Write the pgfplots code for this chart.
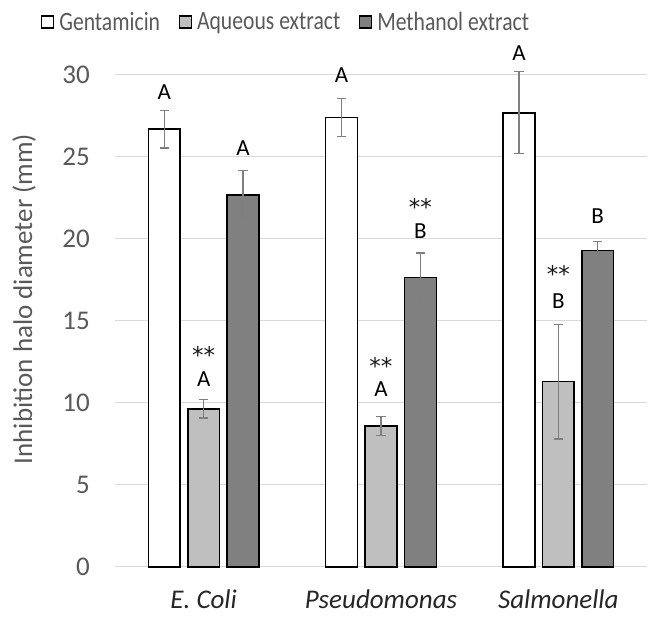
\documentclass[border=0pt]{standalone}
\usepackage{pgfplots}
\pgfplotsset{compat=1.18}
\usepackage{fontspec}
\setmainfont{Carlito}
\newfontfamily\legfont[FakeStretch=0.82]{Carlito}
\newfontfamily\astfont{DejaVu Sans}
\definecolor{txtgray}{HTML}{595959}
\definecolor{gridgray}{HTML}{D9D9D9}
\definecolor{lightbar}{HTML}{BFBFBF}
\definecolor{darkbar}{HTML}{808080}
\definecolor{errgray}{HTML}{7F7F7F}
\pgfplotsset{
  sqlegend/.style={legend image code/.code={\draw[##1, line width=1pt] (0pt,-4.5pt) rectangle (9pt,4.5pt);}},
  myerr/.style={error bars/.cd, y dir=both, y explicit,
    error bar style={color=errgray, line width=0.9pt},
    error mark options={rotate=90, mark size=3.5pt, line width=0.9pt, color=errgray}},
}
\tikzset{anno/.style={font=\fontsize{17.25pt}{20pt}\selectfont, anchor=base, inner sep=0pt, text=black},
  ast/.style={font=\astfont\fontsize{17.25pt}{20pt}\selectfont, anchor=base, inner sep=0pt, text=black!90}}
\begin{document}
\begin{tikzpicture}
\path[use as bounding box] (-86.25pt,-37.5pt) rectangle (406.5pt,425.25pt);
\begin{axis}[
  at={(0pt,0pt)}, anchor=south west,
  scale only axis, width=399pt, height=369pt,
  ybar, bar width=0.18,
  xmin=-0.5, xmax=2.5, ymin=0, ymax=30,
  xtick={0,1,2}, xticklabels={E. Coli, Pseudomonas, Salmonella},
  ytick={0,5,...,30},
  ymajorgrids, major grid style={gridgray, line width=0.75pt},
  axis line style={draw=none}, major tick length=0pt, tick style={draw=none},
  clip=false,
  /pgf/number format/assume math mode=true,
  yticklabel style={font=\fontsize{20.25pt}{24pt}\selectfont, text=txtgray, inner sep=0pt, xshift=-18.75pt},
  xticklabel style={font=\fontsize{20.25pt}{24pt}\selectfont\itshape, text=black!85, inner sep=0pt, yshift=-17pt},
  ylabel={Inhibition halo diameter (mm)},
  ylabel style={font=\fontsize{20.25pt}{24pt}\selectfont, text=txtgray, at={(axis description cs:-0.171,0.5447)}, anchor=center},
  legend columns=3,
  legend cell align=left,
  legend style={draw=none, fill=none, at={(axis description cs:-0.139,1.1077)}, anchor=west,
    inner sep=0pt, outer sep=0pt, font=\legfont\fontsize{19.8pt}{22pt}\selectfont, text=txtgray,
    nodes={inner sep=0pt},
    /tikz/every odd column/.append style={column sep=3.75pt},
    /tikz/every even column/.append style={column sep=14pt}},
]
\addplot[fill=white, draw=black, line width=1.2pt, bar shift=-0.222, sqlegend, myerr]
  coordinates {(0,26.7) +- (0,1.15) (1,27.4) +- (0,1.15) (2,27.7) +- (0,2.5)};
\addplot[fill=lightbar, draw=black, line width=1.2pt, bar shift=0, sqlegend, myerr]
  coordinates {(0,9.65) +- (0,0.56) (1,8.6) +- (0,0.57) (2,11.3) +- (0,3.5)};
\addplot[fill=darkbar, draw=black, line width=1.2pt, bar shift=0.222, sqlegend, myerr]
  coordinates {(0,22.7) +- (0,1.5) (1,17.65) +- (0,1.5) (2,19.3) +- (0,0.56)};
\legend{Gentamicin, Aqueous extract, Methanol extract}
\node[anno] at (axis cs:-0.222,28.53) {A};
\node[anno] at (axis cs:0,11.02) {A};
\node[ast] at (axis cs:0,12.38) {**};
\node[anno] at (axis cs:0.222,25.09) {A};
\node[anno] at (axis cs:0.778,29.53) {A};
\node[anno] at (axis cs:1,10.39) {A};
\node[ast] at (axis cs:1,11.75) {**};
\node[anno] at (axis cs:1.222,20.01) {B};
\node[ast] at (axis cs:1.222,21.42) {**};
\node[anno] at (axis cs:1.778,30.91) {A};
\node[anno] at (axis cs:2,15.77) {B};
\node[ast] at (axis cs:2,17.33) {**};
\node[anno] at (axis cs:2.222,20.96) {B};
\end{axis}
\end{tikzpicture}
\end{document}
